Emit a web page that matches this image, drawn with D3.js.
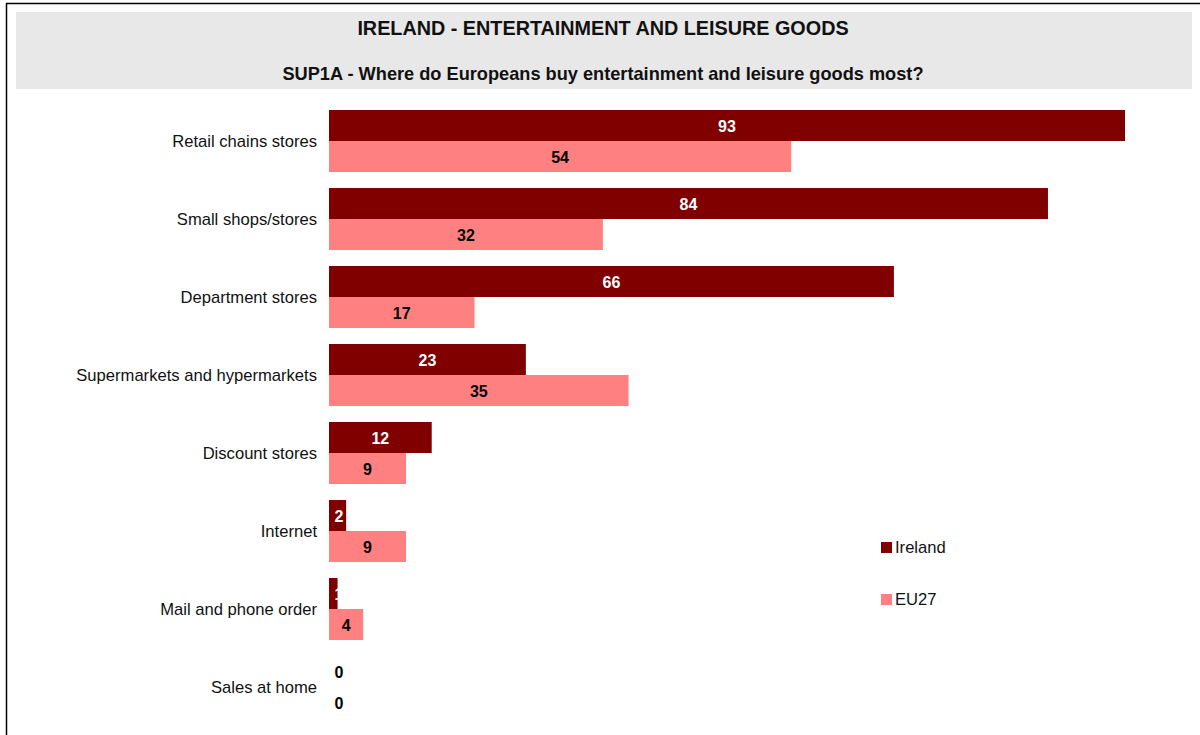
<!DOCTYPE html>
<html><head><meta charset="utf-8">
<script src="https://cdn.jsdelivr.net/npm/d3@7"></script>
<style>body{margin:0;background:#fff}svg{display:block;font-family:Arial,"Liberation Sans",sans-serif}</style>
</head><body>
<svg id="c" width="1200" height="735"></svg>
<script>
const categories = ["Retail chains stores","Small shops/stores","Department stores","Supermarkets and hypermarkets","Discount stores","Internet","Mail and phone order","Sales at home"];
const irelandValues = [93,84,66,23,12,2,1,0];
const eu27Values = [54,32,17,35,9,9,4,0];
const seriesNames = ["Ireland","EU27"];
const title = "IRELAND - ENTERTAINMENT AND LEISURE GOODS";
const subtitle = "SUP1A - Where do Europeans buy entertainment and leisure goods most?";

const colors = ["#800000","#FF8080"];
const labelColors = ["#fff","#000"];
const svg = d3.select("#c");

// frame
svg.append("line").attr("x1",6).attr("x2",1200).attr("y1",3.5).attr("y2",3.5).attr("stroke","#000").attr("stroke-width",1.5);
svg.append("line").attr("x1",6.5).attr("x2",6.5).attr("y1",3).attr("y2",735).attr("stroke","#000").attr("stroke-width",1.5);
// title band
svg.append("rect").attr("x",16).attr("y",12).attr("width",1176).attr("height",77).attr("fill","#e8e8e8");
svg.append("text").attr("x",603).attr("y",35).attr("text-anchor","middle").attr("font-weight","bold").attr("font-size",19.8).attr("fill","#111").text(title);
svg.append("text").attr("x",603).attr("y",80).attr("text-anchor","middle").attr("font-weight","bold").attr("font-size",18.2).attr("fill","#111").text(subtitle);

const x = d3.scaleLinear().domain([0,93]).range([329,1125]);
const y = d3.scaleBand().domain(categories).range([102,726]).paddingInner(16/78).paddingOuter(8/78);
const sub = d3.scaleBand().domain(seriesNames).range([0,y.bandwidth()]);

const data = categories.map((c,i)=>({cat:c, vals:[irelandValues[i],eu27Values[i]]}));

const g = svg.append("g");
const groups = g.selectAll("g.cat").data(data).join("g").attr("class","cat")
  .attr("transform",d=>`translate(0,${y(d.cat)})`);
groups.selectAll("rect").data(d=>d.vals.map((v,j)=>({v,j}))).join("rect")
  .attr("x",x(0)).attr("y",d=>sub(seriesNames[d.j]))
  .attr("width",d=>x(d.v)-x(0)).attr("height",sub.bandwidth())
  .attr("fill",d=>colors[d.j]);
groups.selectAll("text.v").data(d=>d.vals.map((v,j)=>({v,j}))).join("text").attr("class","v")
  .attr("x",d=> Math.max((x(0)+x(d.v))/2, x(0)+10))
  .attr("y",d=>sub(seriesNames[d.j])+sub.bandwidth()/2)
  .attr("dy","0.4em").attr("text-anchor","middle")
  .attr("font-weight","bold").attr("font-size",16)
  .attr("fill",d=> d.v===0 ? "#000" : labelColors[d.j])
  .text(d=>d.v);

// category axis
const axis = d3.axisLeft(y).tickSize(0).tickPadding(12);
const ag = svg.append("g").attr("transform",`translate(${x(0)},1)`).call(axis);
ag.select(".domain").remove();
ag.selectAll("text").attr("font-size",16.6).attr("font-family","Arial, 'Liberation Sans', sans-serif").attr("fill","#111");

// legend
const leg = svg.append("g").selectAll("g").data(seriesNames).join("g")
  .attr("transform",(d,i)=>`translate(881,${542+i*52})`);
leg.append("rect").attr("width",11).attr("height",11).attr("fill",(d,i)=>colors[i]);
leg.append("text").attr("x",14).attr("y",5.5).attr("dy","0.36em").attr("font-size",16.6).attr("fill","#111").text(d=>d);
</script>
</body></html>
